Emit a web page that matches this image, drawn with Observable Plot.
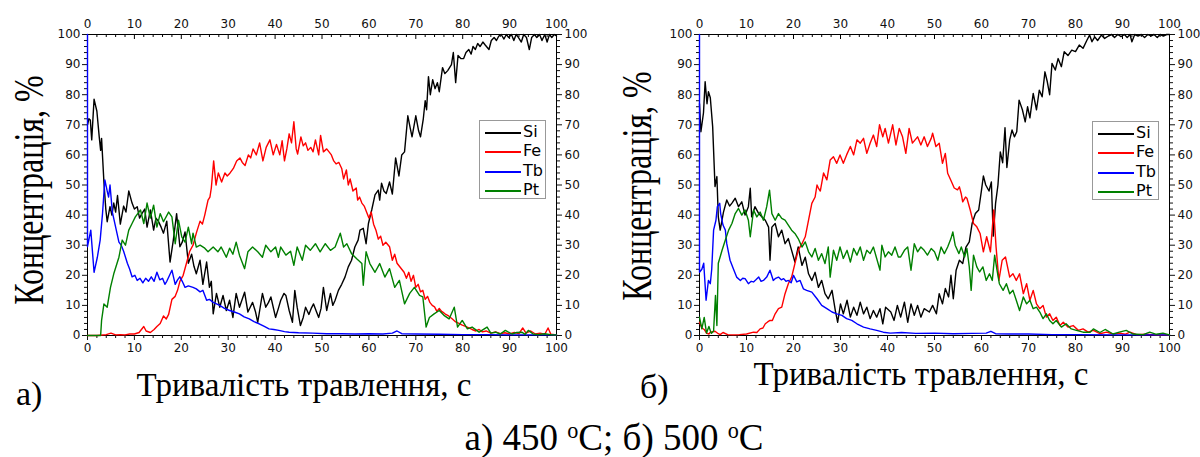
<!DOCTYPE html>
<html><head><meta charset="utf-8">
<script src="https://cdn.jsdelivr.net/npm/d3@7"></script>
<script src="https://cdn.jsdelivr.net/npm/@observablehq/plot@0.6"></script>
<style>
body{margin:0;background:#fff;}
#wrap{position:relative;width:1200px;height:457px;overflow:hidden;background:#fff;}
.panel{position:absolute;top:0;}
.serif{position:absolute;font-family:"Liberation Serif","Times New Roman",serif;color:#000;white-space:nowrap;line-height:1;}
.legend{position:absolute;border:1px solid #999;background:#fff;font-family:"DejaVu Sans",sans-serif;font-size:16px;box-sizing:border-box;}
.legend .ln{position:absolute;width:36px;height:2px;}
.legend .tx{position:absolute;line-height:1;color:#000;}
</style></head>
<body><div id="wrap"></div>
<script>
// ---------- data ----------
const seriesNames = ["Si", "Fe", "Tb", "Pt"];
const seriesColors = ["#000000", "#ff0000", "#0000ff", "#008000"];
const xTicks = [0,10,20,30,40,50,60,70,80,90,100];
const yTicks = [0,10,20,30,40,50,60,70,80,90,100];
const minorTicks = [2,4,6,8,12,14,16,18,22,24,26,28,32,34,36,38,42,44,46,48,52,54,56,58,62,64,66,68,72,74,76,78,82,84,86,88,92,94,96,98];
const panelLetters = ["а)", "б)"];
const xTitle = "Тривалість травлення, с";
const yTitle = "Концентрація, %";

// panel а) 450 °C
const aSi = [[0,70],[0.3,72],[0.6,71.6],[0.9,65],[1.4,78.5],[2,74.5],[2.5,66],[2.8,61.5],[3,65.5],[3.5,51],[3.9,42],[4.2,37.8],[4.8,42.8],[5.2,40],[5.6,44],[6,41],[6.4,46.5],[7,37],[7.7,43],[8.2,41],[8.8,48],[9.5,44],[10,42],[10.6,42.8],[11.1,39],[11.6,40.5],[12.2,42],[12.7,36],[13.4,41.7],[14.1,35],[14.6,39],[15.1,38],[15.7,36],[16.2,34],[16.9,38],[17.6,24.4],[18.3,31.7],[19,40.5],[19.7,29.5],[20.2,31],[20.8,34.4],[21.5,24],[22.2,27],[22.7,23],[23.2,20.5],[24,25],[24.6,17],[25.4,24.4],[26,16],[26.4,18],[26.8,7.2],[27.5,14],[28.2,9.4],[28.9,13.3],[29.6,8.3],[30.3,11.7],[31,6],[31.7,14],[32.4,9.4],[33.5,14.4],[34.2,7.8],[35.2,11],[35.8,8],[36.3,4.4],[37.3,14],[38,9.4],[38.6,11],[39.1,12.8],[40.1,6],[40.7,9],[41.2,11.7],[41.9,14],[42.3,13.3],[43,8.3],[43.7,4.4],[44.2,15],[44.7,9.4],[45.4,3.3],[46,6],[46.5,9.4],[47.2,7],[47.7,9],[48.2,10.5],[48.8,8],[49.3,6],[49.8,9],[50.3,16],[51,8.3],[51.8,14],[52.3,10],[52.8,11.7],[53.5,15],[54.2,17],[54.9,19.4],[55.6,22.8],[56.3,25],[57,29.4],[57.7,31.7],[58.1,35],[58.8,35.6],[59.4,30.5],[59.9,37.2],[60.6,41.7],[61.3,46.7],[62,48.3],[62.3,45],[62.7,50.6],[63.2,48],[63.7,47.2],[64.4,51],[65,47],[65.7,59],[66.4,53],[67,60],[67.6,61],[68.3,73],[68.8,69],[69.2,66],[70,73],[70.6,68],[71,66],[71.6,72],[72,78],[72.3,75],[72.7,86],[73.1,80],[73.6,85],[74.1,82],[74.6,84],[75,81],[75.7,89],[76.2,87],[76.8,88],[77.6,90],[78,94],[78.5,84],[79,93],[79.6,92],[80.2,92],[80.7,94],[81.3,95],[81.8,93.5],[82.2,96],[82.7,95],[83.2,97],[83.7,96],[84.3,97.5],[84.8,96.5],[85.6,95],[86.1,98],[86.7,99],[87.2,98],[87.7,99.5],[88.2,100],[88.8,98.5],[89.3,100],[89.8,99],[90.4,100],[90.9,98],[91.4,100],[91.9,99],[92.5,97.5],[93,100],[93.6,99],[94.2,95],[94.7,99],[95.3,100],[95.8,99],[96.4,100],[96.9,98],[97.5,100],[98,97.5],[98.5,100],[99,99],[99.5,100],[100,99.5]];
const aFe = [[0,0],[2,0],[4,0.3],[5,0.8],[6,0.2],[7,0.3],[8,0.2],[9,0.5],[10,0.5],[11,1],[12,3],[12.5,1.5],[13.4,1],[14.2,2],[14.8,3],[15.5,4],[16.2,6.5],[16.8,5.5],[17.3,7],[18,12],[18.7,13],[19.2,15],[19.7,18],[20.4,20],[21.1,24],[21.8,28],[22.5,30],[23.2,34],[24,38],[24.5,37],[25,40],[25.7,45],[26.1,46],[26.4,49],[26.9,58],[27.4,50],[27.9,54],[28.6,51],[29.3,54],[29.8,53],[30.4,54],[31.1,55.5],[31.8,58],[32.5,59],[33,57.5],[33.6,56.5],[34.3,60],[34.8,59],[35.3,62],[36,60],[36.7,64],[37.4,58],[38.1,62.5],[38.9,65],[39.6,60],[40.3,63.5],[41,60],[41.5,64.7],[42,58],[42.5,62],[43,67],[43.5,64],[44,71],[44.5,62],[44.8,60.3],[45.5,66],[46,63],[46.5,64],[47,61.5],[47.6,62.5],[48.1,61],[48.6,65],[49.3,60],[49.7,66.5],[50.3,61],[51,62],[51.5,61],[52,60],[52.5,58],[53,57],[53.6,57.5],[54.2,55.5],[54.6,52],[55.2,55],[55.6,50],[56,52],[56.6,48],[57.3,49],[57.6,45],[58,46],[58.5,44],[59,43],[59.5,41],[60,39],[60.5,41],[61,37],[61.5,35],[62,32],[62.5,33],[63,30],[63.6,31],[64.4,29.5],[65,25],[65.5,27],[66,24],[66.5,23],[67,22],[67.5,21],[68,19],[68.5,21],[69,18],[69.5,20],[70,16],[70.5,17],[71,14.5],[71.5,15],[72,12],[72.5,13],[73,11],[73.5,10],[74,9.5],[74.5,8],[75,9],[75.5,8],[76,7.5],[76.4,7],[77,6.5],[77.8,5.5],[78.5,4.5],[79.2,4],[79.8,3.5],[80.6,3],[81.3,2.5],[82,2],[82.8,1.5],[83.5,2],[84.2,1.2],[85,1.5],[86,0.8],[87,1.2],[88,0.6],[89,0.9],[90,0.5],[91,1],[92,0.6],[92.8,2.5],[93.5,0.8],[94.5,1.5],[95.5,0.5],[96.5,0.8],[97.5,0.4],[98.2,2.5],[98.8,0.4],[100,0.2]];
const aTb = [[0,100],[0,29.5],[0.7,35],[1.4,21],[2.1,26],[2.7,31.7],[3.2,40.5],[3.7,51.7],[4.2,48],[4.5,46],[4.8,50],[5.3,41],[6,36],[6.7,31],[7.2,30],[7.7,28],[8.5,24],[9,22],[9.5,19.5],[10.1,20],[10.6,18.3],[11.2,19],[11.8,17.5],[12.4,19],[13,18],[13.6,19.5],[14.2,18],[14.8,21],[15.4,18.5],[16,19],[16.5,17],[16.9,18],[17.5,20],[18,21.7],[18.7,17],[19.2,18.5],[19.7,19.5],[20.2,18],[20.8,16],[21.5,16.5],[22.5,16],[23.2,15.5],[24,14.5],[24.6,15],[25.4,11.7],[26,12],[26.8,11],[27.5,10.5],[28.2,10],[29.2,9],[30.3,8.3],[31.3,7.8],[32.4,7.2],[33.4,6.2],[34.5,5.5],[35.5,4.6],[36.6,3.9],[37.7,3],[38.7,2.2],[39.7,2],[40.8,1.7],[42,1.3],[43,1.1],[45,0.9],[48,0.8],[51,0.6],[54,0.6],[57,0.5],[60,0.6],[63,0.5],[65,0.8],[66,1.5],[67,0.6],[70,0.5],[75,0.4],[80,0.3],[85,0.3],[90,0.2],[95,0.2],[100,0.2]];
const aPt = [[0,0],[2.8,0],[3,5],[3.2,7.2],[3.5,10.5],[4.2,9.4],[4.9,16],[5.6,20.5],[6.3,24],[6.7,26],[7.4,31.7],[8.1,30],[8.8,35],[9.5,37.2],[10.2,39.4],[11.3,41.7],[12,37.2],[12.7,44],[13.4,39],[14.1,43.3],[14.8,36],[15.5,40.5],[16.2,37.8],[17.3,41],[18,39.4],[18.7,30.5],[19.4,38.3],[20.1,32.8],[20.8,31],[21.5,36],[22.2,30.5],[22.5,34],[23.2,29.4],[24,30],[25,29],[25.7,27.8],[26.8,29.4],[27.8,27.8],[28.5,29.4],[29.6,26],[30.3,29],[31,27],[31.7,31],[32.4,26.7],[33.5,22.2],[34.2,27.8],[35.2,29.4],[36.3,27.8],[37.3,26],[38,30],[39.1,27.8],[40.1,29.4],[40.7,26],[41.2,29.4],[42.3,26.7],[43.3,28],[44,23.3],[44.7,29.4],[45.8,25],[46.5,30],[47.5,28.3],[48.6,30.5],[49.6,27.8],[50.7,30.5],[51.8,28.3],[52.8,29.4],[53.9,34],[54.6,29.4],[55.3,30.5],[56.3,27.2],[57.4,25.5],[58.5,23.9],[58.8,16.7],[59.4,27.8],[60.2,23.9],[61.3,21],[62.3,23.9],[63.4,19.4],[64.4,22.2],[65.5,16],[66.5,18.3],[67.6,10.5],[68.7,14],[69.7,16],[70.8,13.3],[71.5,12.8],[72.2,2.8],[72.9,6],[73.9,7.2],[75,8.3],[76,6.7],[77.1,5.5],[78.2,9.4],[78.9,2.8],[79.9,5],[81,2.2],[82,2.8],[83.5,1.1],[85.2,2.8],[86,0.8],[87,1.1],[88,0.5],[89.1,1.7],[90.5,0.5],[91.5,1],[92.6,1.1],[93.3,0.4],[94,1.7],[95,0.5],[96.1,0.3],[97.5,0.6],[99,0.2],[100,0.2]];

// panel б) 500 °C
const bSi = [[0,77],[0.3,67.7],[0.85,74],[1.2,84.3],[1.6,77],[1.9,81],[2.3,79],[2.8,69.4],[3.3,49.5],[3.7,52.8],[4,39.4],[4.4,35],[5.1,41],[5.8,45],[6.4,43],[6.9,44],[7.6,45.6],[8.3,42.8],[9,44.4],[9.7,40],[10.4,42.8],[10.8,48.9],[11.1,39.4],[11.8,42.8],[12.6,40.5],[13.3,39.4],[14,38.3],[14.7,36],[15,25],[15.4,36],[16.1,37.2],[16.8,32.8],[17.5,35],[18.2,30.5],[18.9,32.2],[19.6,28.3],[20.3,24.4],[21,29.4],[21.8,23.3],[22.5,26],[23.2,20.5],[23.9,18.3],[24.6,21],[25.3,16],[26,18.3],[26.7,13.9],[27.4,12.2],[28.2,15],[28.9,8.3],[29.4,4.4],[30,10.5],[30.6,7.2],[31.4,11.7],[32.1,6.1],[32.8,9.4],[33.5,6.7],[34.2,11.1],[34.9,7.2],[35.6,9.4],[36.3,5.6],[37,8.3],[37.7,6.1],[38.4,8.9],[39,3.9],[39.6,9.4],[40.7,7.8],[41.4,5],[42.1,10],[42.8,6.1],[43.6,11.1],[44.3,4.4],[45,10.5],[45.7,6.7],[46.4,10],[47.1,6.1],[47.8,8.9],[48.9,7.8],[49.6,10],[50.4,7.2],[51,13.9],[51.7,10.5],[52.3,15.6],[53,12.8],[53.5,20],[54,12.2],[54.6,21.7],[55.3,25],[56,23.9],[56.7,29.4],[57.4,31.1],[58,37.2],[58.7,40.5],[59.4,41.7],[60,48.3],[60.4,53],[60.9,50],[61.6,48],[62.1,51],[62.5,33],[63,44],[63.5,50],[64,61],[64.5,57.4],[65,69],[65.4,55.8],[66,65],[66.5,68.3],[67,66],[67.5,67.7],[68,78.2],[68.7,75],[69.3,71],[69.8,76],[70.3,72.3],[71,80.4],[71.7,75],[72.3,81.5],[72.9,79.3],[73.5,87.6],[74,84.3],[74.5,80],[75,90.4],[75.7,88.2],[76.3,92],[77,89.3],[77.6,94.3],[78.4,93],[79.2,94.8],[80,94.3],[80.8,96.5],[81.6,95.4],[82.4,98],[83,99.8],[83.5,97.6],[84.1,99.2],[84.7,98],[85.5,99.8],[86.2,98.7],[87,99.5],[87.7,100],[88.3,99],[89,100],[89.7,99.3],[90.4,100],[91,99],[91.6,100],[92,97.6],[92.6,100],[93.3,99.5],[94,100],[94.7,99],[95.4,100],[96,99.5],[96.7,100],[97.4,99],[98,100],[98.7,99.5],[99.4,100],[100,100]];
const bFe = [[0,4.4],[0.5,2.5],[1,2],[1.5,0.8],[2,0.5],[2.3,1.1],[3.3,1.4],[4,0.6],[4.4,0.3],[5,1],[6,0.3],[7.2,0.2],[8.5,0.3],[10,0.5],[11.5,1.1],[12.2,1],[12.9,2.2],[13.5,2.5],[14,3.9],[14.5,4.5],[15,5],[15.5,5],[16.1,7.2],[16.8,8.9],[17.5,9.4],[18.2,13.9],[18.9,17.2],[19.6,19.4],[20.3,23.9],[21,28.3],[21.8,30.5],[22.5,32.8],[23.2,38.3],[23.9,43.9],[24.6,46],[25,50],[25.3,49],[25.7,48],[26.4,54],[27.1,51.7],[27.8,58.3],[28.5,59.4],[29.2,57.2],[29.9,60],[30.6,57.2],[31.3,60],[32.1,62.8],[32.8,60],[33.5,65],[34.2,63.9],[34.9,65.5],[35.6,60.5],[36.3,63.9],[37,66.6],[37.7,62.8],[38.3,70],[39,66],[39.5,68.8],[40.2,63.9],[41.1,70],[41.8,63.3],[42.5,68.8],[43.2,66],[43.9,60.5],[44.6,68.8],[45.3,63.9],[46.4,66],[47.1,63.3],[47.8,66],[48.5,62.8],[49.3,65.5],[49.6,67.2],[50.3,62.8],[51,63.9],[51.7,57.2],[52.3,60.5],[52.8,53.9],[53.5,51.5],[54.2,49],[54.9,48.4],[55.3,49.4],[55.7,47],[56,44.4],[56.6,46],[56.9,45.6],[57.6,41.7],[58.3,37.2],[59,36.1],[59.7,33.9],[60.4,27.8],[61.1,32.8],[61.9,27.8],[62.6,41.7],[63.1,29.4],[63.7,18.3],[64.4,25],[65.1,26.1],[66,19.4],[66.7,20.5],[67.4,18.3],[68.1,20.5],[68.9,13.9],[69.6,17.2],[70.3,11.7],[71,15],[71.7,10.5],[72.4,8.9],[73.1,10],[73.8,6.1],[74.5,7.2],[75.2,5],[75.9,6.1],[76.7,3.3],[77.4,4.4],[78.4,2.8],[79.5,3.3],[80.6,1.7],[81.6,2.2],[82.7,1.1],[83.8,1.7],[85.2,0.6],[86.6,1.1],[88,0.5],[89.5,0.8],[90.5,0.4],[91.6,1.1],[93,0.3],[95,0.4],[97,0.2],[100,0.2]];
const bTb = [[0,100],[0,21],[0.5,22],[0.9,24],[1.4,11.7],[1.9,18.3],[2.3,17.2],[2.6,22],[3,35],[3.5,38.3],[3.8,42.8],[4.3,43.9],[4.5,40.5],[5,36.7],[5.5,35],[5.8,30.5],[6.5,25],[7.2,22.2],[7.9,19.4],[8.7,18.3],[9.2,19],[9.7,18.9],[10.4,17.2],[11,18],[11.5,17.8],[12,18.5],[12.6,19.4],[13.1,18],[13.6,18.3],[14.3,19.4],[15,21.7],[15.7,18.3],[16.2,19],[16.8,19.4],[17.4,18.5],[17.9,18.9],[18.4,18],[18.9,18.3],[19.5,17.5],[20,20],[20.7,17.8],[21.4,18.3],[22.1,15.5],[22.8,15],[23.9,14.4],[25,12.2],[26,10],[27.1,8.9],[28.2,7.8],[29.2,7.2],[30.3,6.7],[31.3,5.6],[32.4,5],[33.5,3.9],[34.9,2.8],[36.3,2.2],[37.7,1.7],[39.1,1.1],[40.6,0.8],[43,1],[46,0.7],[50,0.8],[54,0.6],[58,0.7],[61,0.8],[62,1.4],[63,0.6],[66,0.5],[70,0.5],[75,0.3],[80,0.3],[90,0.2],[100,0.2]];
const bPt = [[0,6.1],[0.5,2.2],[1,6],[1.5,0.8],[2,3],[2.5,0.7],[3,1.5],[3.4,13.3],[3.7,3.3],[4,24],[4.8,28.3],[5.5,31.7],[6.2,35],[6.9,37.2],[7.6,40.5],[8.3,42.2],[9,40],[9.7,41.7],[10.4,38.3],[10.8,32.8],[11.5,41.7],[12.2,39.4],[12.9,41],[13.6,38.3],[14.3,42.8],[14.9,48.3],[15.4,40.5],[16.1,38.3],[16.8,40.5],[17.5,38.9],[18.2,38.3],[18.9,36.7],[19.6,35],[20.3,33.9],[21,32.2],[21.8,29.4],[22.5,31.1],[23.2,27.8],[23.9,26.1],[24.6,28.9],[25.3,25],[26,27.2],[26.7,23.9],[27.4,29.4],[27.8,19.4],[28.5,28.3],[29.2,25],[29.9,29.4],[30.6,25.6],[31.4,28.3],[32.1,24.4],[32.8,28.9],[33.5,26.7],[34.2,29.4],[34.9,25],[35.6,28.3],[36.3,27.2],[37,29.4],[37.7,25.6],[38.4,21.7],[38.8,30],[39.5,26.1],[40.2,27.8],[40.9,26.7],[41.6,29.4],[42.3,26.1],[42.8,26.1],[43.6,28.3],[44.3,29.4],[45,21.7],[45.7,30.5],[46.4,27.8],[47.1,29.4],[47.8,28.3],[48.5,26.7],[49.3,28.9],[50,27.8],[50.7,25],[51.4,29.4],[52.1,27.2],[52.8,29.4],[53.5,32.2],[53.9,34.4],[54.4,30],[55.2,27.2],[55.7,29.4],[56.4,26.1],[56.9,28.9],[57.4,22.8],[57.8,15],[58.3,26.7],[59,22.8],[59.6,21.1],[60.3,22.8],[61,18.3],[61.7,20.5],[62.3,18.3],[62.8,26.7],[63.3,21.7],[63.8,17.2],[64.6,15],[65.3,17.2],[66,13.9],[66.7,15],[67.4,11.7],[68.1,8.3],[68.9,12.8],[69.6,10.5],[70.3,11.7],[71,8.9],[71.7,9.4],[72.4,7.8],[73.1,5.6],[73.8,7.2],[74.5,5],[75.2,3.9],[75.9,5],[77,2.8],[78,3.9],[79.1,2.2],[80.2,1.7],[81.6,1.1],[83.1,1.1],[83.8,2.2],[85.2,1],[86.3,2],[88,0.5],[89.3,1.1],[90.8,1.7],[92.2,0.5],[94.4,0.3],[95.8,1.1],[97.2,0.4],[98.6,0.8],[100,0.2]];

// ---------- drawing ----------
const wrap = document.getElementById("wrap");
const W = 600, H = 365, MT = 34, MB = 30;
const plotH = H - MT - MB;

function makePanel(series, left, ml, mr) {
  const k = 100 / plotH; // data units per pixel (y)
  const marks = [
    Plot.frame({stroke: "black", strokeWidth: 1}),
    Plot.axisY({anchor: "left", ticks: yTicks, tickSize: 5, tickPadding: 2, label: null}),
    Plot.axisY({anchor: "left", ticks: minorTicks, tickSize: 3, tickFormat: () => "", label: null}),
    Plot.axisY({anchor: "right", ticks: yTicks, tickSize: 5, tickPadding: 3, label: null}),
    Plot.axisY({anchor: "right", ticks: minorTicks, tickSize: 3, tickFormat: () => "", label: null}),
    Plot.axisX({anchor: "bottom", ticks: xTicks, tickSize: 5, tickPadding: 3, label: null}),
    Plot.axisX({anchor: "bottom", ticks: minorTicks, tickSize: 3, tickFormat: () => "", label: null}),
    Plot.axisX({anchor: "top", ticks: xTicks, tickSize: 0, tickPadding: 7, label: null}),
    Plot.ruleX(xTicks, {x: d => d, y1: 100, y2: 100 - 5 * k, stroke: "black"}),
    Plot.ruleX(minorTicks, {x: d => d, y1: 100, y2: 100 - 3 * k, stroke: "black"})
  ];
  series.forEach((s, i) => {
    marks.push(Plot.line(s, {x: d => d[0], y: d => d[1], stroke: seriesColors[i], strokeWidth: 1.4, strokeLinejoin: "round"}));
  });
  const svg = Plot.plot({
    width: W, height: H,
    marginLeft: ml, marginRight: mr, marginTop: MT, marginBottom: MB,
    x: {domain: [0, 100]},
    y: {domain: [0, 100]},
    style: {fontFamily: "DejaVu Sans, sans-serif", fontSize: "12px", color: "#111", background: "transparent", overflow: "visible"},
    marks
  });
  svg.classList.add("panel");
  svg.style.left = left + "px";
  wrap.appendChild(svg);
}

makePanel([aSi, aFe, aTb, aPt], 0, 87, 44);
makePanel([bSi, bFe, bTb, bPt], 600, 99, 31);

function addLegend(left, top) {
  const lg = document.createElement("div");
  lg.className = "legend";
  Object.assign(lg.style, {left: left + "px", top: top + "px", width: "67px", height: "79px"});
  seriesNames.forEach((n, i) => {
    const ln = document.createElement("div");
    ln.className = "ln";
    Object.assign(ln.style, {left: "5px", top: Math.round(11 + i * 19.4) + "px", background: seriesColors[i]});
    const tx = document.createElement("div");
    tx.className = "tx";
    tx.textContent = n;
    Object.assign(tx.style, {left: "43px", top: Math.round(3 + i * 19.4) + "px"});
    lg.appendChild(ln); lg.appendChild(tx);
  });
  wrap.appendChild(lg);
}
addLegend(479, 120);
addLegend(1092, 121);

function addText(txt, left, top, size, extra) {
  const d = document.createElement("div");
  d.className = "serif";
  d.innerHTML = txt;
  Object.assign(d.style, {left: left + "px", top: top + "px", fontSize: size + "px"}, extra || {});
  wrap.appendChild(d);
  return d;
}
// y titles (rotated)
addText(yTitle, 29, 190, 32, {transform: "translate(-50%,-50%) scale(1.3,1) rotate(-90deg)"});
addText(yTitle, 637, 186, 32, {transform: "translate(-50%,-50%) scale(1.3,1) rotate(-90deg)"});
// x titles
addText(xTitle, 304, 369, 33, {transform: "translateX(-50%)"});
addText(xTitle, 921, 358, 33, {transform: "translateX(-50%)"});
// panel letters
addText(panelLetters[0], 16, 377, 34);
addText(panelLetters[1], 640, 370, 34);
// caption
addText('а) 450 <sup style="font-size:0.6em;vertical-align:0.55em">о</sup>С; б) 500 <sup style="font-size:0.6em;vertical-align:0.55em">о</sup>С', 614, 419, 37, {transform: "translateX(-50%)"});
</script>
</body></html>
